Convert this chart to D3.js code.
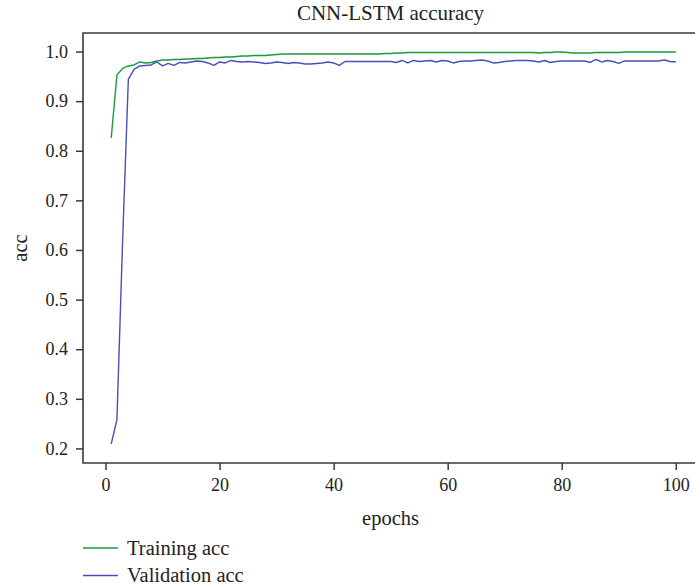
<!DOCTYPE html>
<html>
<head>
<meta charset="utf-8">
<script src="https://cdn.jsdelivr.net/npm/d3@7"></script>
<style>
  html, body { margin: 0; padding: 0; background: #fff; }
  svg { display: block; font-family: "Liberation Serif", "DejaVu Serif", serif; }
</style>
</head>
<body>
<div id="chart"></div>
<script>
// ── Data ──
const epochs = d3.range(1, 101);

const trainingAcc = [
  0.826, 0.953, 0.966, 0.971, 0.973, 0.979, 0.977, 0.978, 0.981, 0.983,
  0.983, 0.984, 0.984, 0.985, 0.985, 0.986, 0.986, 0.987, 0.988, 0.988,
  0.989, 0.989, 0.990, 0.991, 0.991, 0.992, 0.992, 0.992, 0.993, 0.994,
  0.995, 0.995, 0.995, 0.995, 0.995, 0.995, 0.995, 0.995, 0.995, 0.995,
  0.995, 0.995, 0.995, 0.995, 0.995, 0.995, 0.995, 0.995, 0.996, 0.996,
  0.997, 0.997, 0.998, 0.998, 0.998, 0.998, 0.998, 0.998, 0.998, 0.998,
  0.998, 0.998, 0.998, 0.998, 0.998, 0.998, 0.998, 0.998, 0.998, 0.998,
  0.998, 0.998, 0.998, 0.998, 0.998, 0.997, 0.998, 0.998, 0.999, 0.999,
  0.998, 0.997, 0.997, 0.997, 0.997, 0.998, 0.998, 0.998, 0.998, 0.998,
  0.999, 0.999, 0.999, 0.999, 0.999, 0.999, 0.999, 0.999, 0.999, 0.999
];

const validationAcc = [
  0.209, 0.258, 0.620, 0.944, 0.964, 0.971, 0.972, 0.973, 0.979, 0.971,
  0.976, 0.972, 0.978, 0.977, 0.979, 0.981, 0.980, 0.977, 0.972, 0.979,
  0.977, 0.982, 0.980, 0.979, 0.980, 0.979, 0.978, 0.976, 0.977, 0.979,
  0.978, 0.976, 0.978, 0.977, 0.975, 0.975, 0.976, 0.977, 0.979, 0.977,
  0.972, 0.980, 0.980, 0.980, 0.980, 0.980, 0.980, 0.980, 0.980, 0.980,
  0.978, 0.982, 0.977, 0.982, 0.980, 0.981, 0.982, 0.979, 0.982, 0.981,
  0.977, 0.980, 0.981, 0.981, 0.982, 0.983, 0.981, 0.977, 0.978, 0.980,
  0.981, 0.982, 0.982, 0.982, 0.981, 0.979, 0.982, 0.978, 0.980, 0.981,
  0.981, 0.981, 0.981, 0.981, 0.978, 0.984, 0.979, 0.982, 0.980, 0.976,
  0.981, 0.981, 0.981, 0.981, 0.981, 0.981, 0.981, 0.983, 0.980, 0.979
];

const xTicks = [0, 20, 40, 60, 80, 100];
const yTicks = [0.2, 0.3, 0.4, 0.5, 0.6, 0.7, 0.8, 0.9, 1.0];

const series = [
  { label: 'Training acc',   values: trainingAcc,   color: '#1b9a3c' },
  { label: 'Validation acc', values: validationAcc, color: '#4a4eb6' }
];

// ── Layout ──
const W = 695, H = 585;
const plot = { left: 83, top: 33, right: 704, bottom: 463 };
const axisColor = '#3a3a3a';
const tickFont = '18px';
const labelFont = '20.5px';

const svg = d3.select('#chart')
  .append('svg')
  .attr('width', W)
  .attr('height', H);

const x = d3.scaleLinear()
  .domain([-3.95, 104.95])
  .range([plot.left, plot.right]);

const y = d3.scaleLinear()
  .domain([0.1706, 1.0374])
  .range([plot.bottom, plot.top]);

// Lines
const line = d3.line()
  .x((d, i) => x(epochs[i]))
  .y(d => y(d));

series.forEach(s => {
  svg.append('path')
    .datum(s.values)
    .attr('fill', 'none')
    .attr('stroke', s.color)
    .attr('stroke-width', 1.4)
    .attr('stroke-linejoin', 'round')
    .attr('d', line);
});

// Axes
const xAxis = svg.append('g')
  .attr('transform', `translate(0,${plot.bottom})`)
  .call(d3.axisBottom(x).tickValues(xTicks).tickSizeOuter(0).tickSize(7).tickPadding(8));

const yAxis = svg.append('g')
  .attr('transform', `translate(${plot.left},0)`)
  .call(d3.axisLeft(y).tickValues(yTicks).tickFormat(d3.format('.1f')).tickSizeOuter(0).tickSize(7).tickPadding(8));

[xAxis, yAxis].forEach(g => {
  g.select('.domain').remove();
  g.selectAll('line').attr('stroke', axisColor).attr('stroke-width', 1.5);
  g.selectAll('text')
    .attr('fill', '#222')
    .style('font-family', '"Liberation Serif", "DejaVu Serif", serif')
    .style('font-size', tickFont);
});

// Spines: left, bottom, top
svg.append('path')
  .attr('d', `M${plot.right},${plot.top}H${plot.left}V${plot.bottom}H${plot.right}`)
  .attr('fill', 'none')
  .attr('stroke', axisColor)
  .attr('stroke-width', 1.6);

// Title and labels
svg.append('text')
  .attr('x', (plot.left + plot.right) / 2 - 3)
  .attr('y', 20)
  .attr('text-anchor', 'middle')
  .attr('fill', '#222')
  .style('font-size', '21px')
  .text('CNN-LSTM accuracy');

svg.append('text')
  .attr('x', (plot.left + plot.right) / 2 - 3)
  .attr('y', 525)
  .attr('text-anchor', 'middle')
  .attr('fill', '#222')
  .style('font-size', labelFont)
  .text('epochs');

svg.append('text')
  .attr('transform', `translate(27,${(plot.top + plot.bottom) / 2}) rotate(-90)`)
  .attr('text-anchor', 'middle')
  .attr('fill', '#222')
  .style('font-size', labelFont)
  .text('acc');

// Legend
const legend = svg.append('g');
series.forEach((s, i) => {
  const ly = 548 + i * 27.5;
  legend.append('line')
    .attr('x1', 83).attr('x2', 118)
    .attr('y1', ly).attr('y2', ly)
    .attr('stroke', s.color)
    .attr('stroke-width', 1.4);
  legend.append('text')
    .attr('x', 127)
    .attr('y', ly + 6.5)
    .attr('fill', '#222')
    .style('font-size', labelFont)
    .text(s.label);
});
</script>
</body>
</html>
